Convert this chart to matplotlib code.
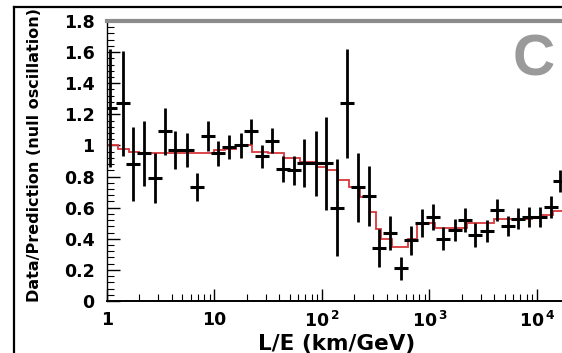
import numpy as np
import matplotlib
matplotlib.use("Agg")
from matplotlib import pyplot as plt
from matplotlib.lines import Line2D
from matplotlib.ticker import FixedLocator, FixedFormatter, LogLocator, NullFormatter

# ratio data points: L/E (km/GeV), data/prediction, error
LE = [1.07, 1.40, 1.73, 2.21, 2.80, 3.46, 4.29, 5.51, 6.83, 8.64,
      10.8, 13.7, 17.5, 21.7, 27.5, 34.5, 43.1, 54.9, 68.5, 87.4,
      109, 137, 170, 218, 275, 341, 429, 540, 673, 846,
      1084, 1344, 1727, 2138, 2650, 3405, 4218, 5410, 6700, 8480,
      10670, 13400, 16370]
RATIO = [1.24, 1.27, 0.88, 0.95, 0.79, 1.09, 0.97, 0.97, 0.73, 1.06,
         0.95, 0.99, 1.00, 1.09, 0.93, 1.03, 0.85, 0.84, 0.885, 0.885,
         0.885, 0.60, 1.27, 0.73, 0.675, 0.34, 0.435, 0.21, 0.39, 0.50,
         0.54, 0.40, 0.456, 0.52, 0.425, 0.45, 0.585, 0.48, 0.53, 0.54,
         0.54, 0.605, 0.77]
RATIO_ERR = [0.38, 0.34, 0.24, 0.21, 0.16, 0.15, 0.12, 0.11, 0.09, 0.095,
             0.08, 0.08, 0.08, 0.08, 0.075, 0.08, 0.085, 0.095, 0.155, 0.21,
             0.30, 0.31, 0.35, 0.22, 0.19, 0.12, 0.11, 0.075, 0.095, 0.09,
             0.085, 0.075, 0.07, 0.075, 0.075, 0.07, 0.07, 0.065, 0.065, 0.065,
             0.065, 0.07, 0.07]

# best-fit oscillation expectation (histogram), edges in log10(L/E)
PRED_LOG_EDGES = [0.0, 0.1, 0.2, 0.3, 1.0, 1.1, 1.2, 1.35, 1.5, 1.65,
                  1.8, 1.95, 2.05, 2.15, 2.25, 2.35, 2.45, 2.5, 2.55, 2.65,
                  2.8, 2.88, 3.05, 3.35, 3.6, 3.95, 4.05, 4.15, 4.4]
PRED = [1.00, 0.98, 0.96, 0.95, 0.97, 0.98, 1.00, 0.96, 0.95, 0.92,
        0.895, 0.86, 0.84, 0.78, 0.73, 0.67, 0.57, 0.46, 0.40, 0.35,
        0.40, 0.50, 0.47, 0.50, 0.53, 0.54, 0.55, 0.58]

Y_TICKS = [0, 0.2, 0.4, 0.6, 0.8, 1.0, 1.2, 1.4, 1.6, 1.8]
Y_TICK_LABELS = ["0", "0.2", "0.4", "0.6", "0.8", "1", "1.2", "1.4", "1.6", "1.8"]
X_TICKS = [1, 10, 100, 1000, 10000]
X_TICK_LABELS = ["1", "10", r"$10^{\,2}$", r"$10^{\,3}$", r"$10^{\,4}$"]

plt.rcParams["font.family"] = ["DejaVu Sans"]
plt.rcParams["font.weight"] = "bold"
plt.rcParams["mathtext.fontset"] = "custom"
plt.rcParams["mathtext.rm"] = "DejaVu Sans:bold"
plt.rcParams["mathtext.it"] = "DejaVu Sans:bold"
plt.rcParams["mathtext.bf"] = "DejaVu Sans:bold"

fig = plt.figure(figsize=(5.62, 3.53), dpi=100)
ax = fig.add_axes([0.1904, 0.1473, 0.8096, 0.7932])

ax.stairs(PRED, 10 ** np.array(PRED_LOG_EDGES), baseline=0,
          color="#d8383c", linewidth=1.3, zorder=2)
ax.errorbar(LE, RATIO, yerr=RATIO_ERR, fmt="_", color="black",
            markersize=10, markeredgewidth=2.2, elinewidth=2.0,
            capsize=0, zorder=3)

ax.set_xscale("log")
ax.set_xlim(1, 10 ** 4.233)
ax.set_ylim(0, 1.8)

ax.yaxis.set_major_locator(FixedLocator(Y_TICKS))
ax.yaxis.set_major_formatter(FixedFormatter(Y_TICK_LABELS))
ax.yaxis.set_minor_locator(FixedLocator(np.arange(0, 1.81, 0.04)))
ax.xaxis.set_major_locator(FixedLocator(X_TICKS))
ax.xaxis.set_major_formatter(FixedFormatter(X_TICK_LABELS))
ax.xaxis.set_minor_locator(LogLocator(base=10, subs=np.arange(2, 10), numticks=10))
ax.xaxis.set_minor_formatter(NullFormatter())

ax.tick_params(axis="both", which="both", direction="in", top=False, right=False)
ax.tick_params(axis="y", which="major", length=9, width=1.0, pad=9, labelsize=12.5)
ax.tick_params(axis="y", which="minor", length=5, width=0.8)
ax.tick_params(axis="x", which="major", length=9, width=1.0, pad=7, labelsize=12.5)
ax.tick_params(axis="x", which="minor", length=5, width=0.8)

ax.spines["right"].set_visible(False)
ax.spines["top"].set_color("#8c8c8c")
ax.spines["top"].set_linewidth(3.0)
ax.spines["bottom"].set_linewidth(1.4)
ax.spines["left"].set_linewidth(1.0)

ax.set_ylabel("Data/Prediction (null oscillation)", fontsize=11.5, fontweight="bold")
ax.yaxis.set_label_coords(-0.143, 0.52)
ax.set_xlabel("L/E (km/GeV)", fontsize=15.5, fontweight="bold")
ax.xaxis.set_label_coords(0.505, -0.118)

ax.text(0.985, 0.955, "C", transform=ax.transAxes, ha="right", va="top",
        fontsize=42, fontweight="bold", color="#9a9a9a",
        family=["Liberation Sans", "DejaVu Sans"])

# outer panel frame
fig.add_artist(Line2D([14 / 562, 1.0], [1 - 7 / 353, 1 - 7 / 353],
                      color="black", linewidth=1.6, transform=fig.transFigure))
fig.add_artist(Line2D([14 / 562, 14 / 562], [0.0, 1 - 7 / 353],
                      color="black", linewidth=1.6, transform=fig.transFigure))

plt.savefig("out.png", dpi=100)
